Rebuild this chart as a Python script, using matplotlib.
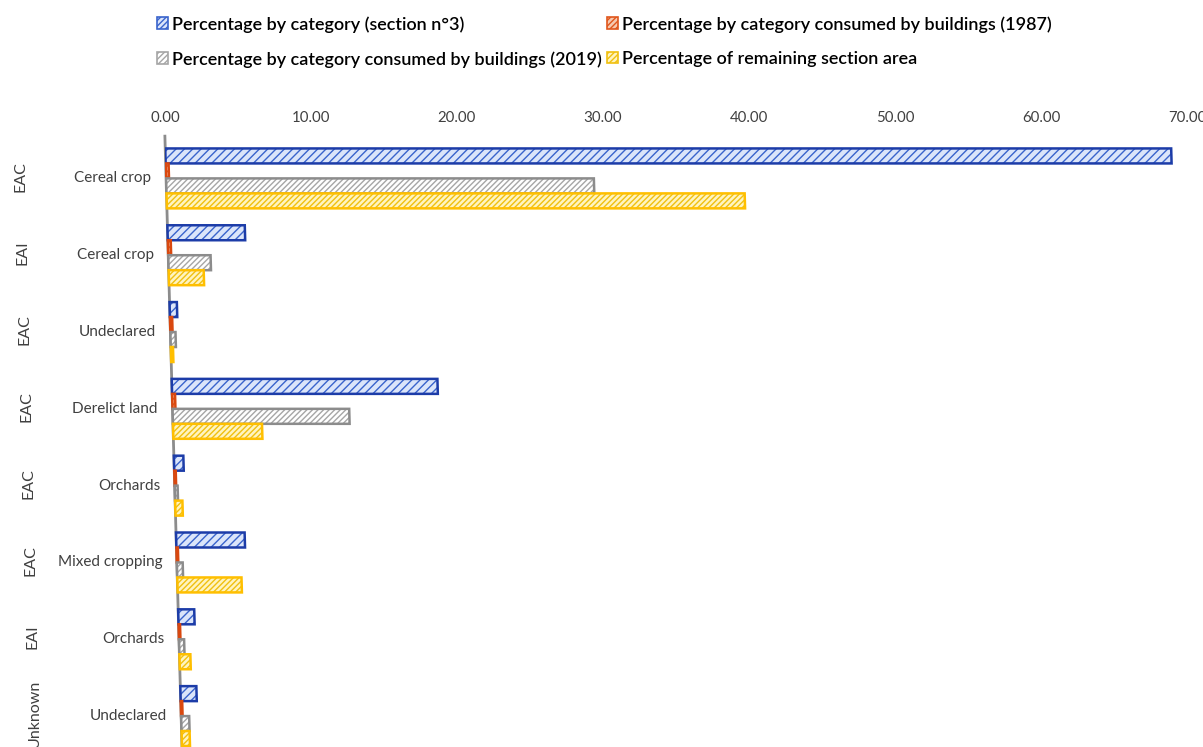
import math
import numpy as np
import matplotlib
matplotlib.use('Agg')
import matplotlib.pyplot as plt
from matplotlib.patches import Patch
from matplotlib.transforms import Affine2D
from matplotlib.ticker import FormatStrFormatter

plt.rcParams['font.family'] = ['Lato', 'DejaVu Sans']

# Categories (outer group / inner label)
outer = ['EAC', 'EAI', 'EAC', 'EAC', 'EAC', 'EAC', 'EAI', 'Unknown']
inner = ['Cereal crop', 'Cereal crop', 'Undeclared', 'Derelict land',
         'Orchards', 'Mixed cropping', 'Orchards', 'Undeclared']

# Series values (%)
section = [68.9, 5.3, 0.5, 18.2, 0.65, 4.7, 1.1, 1.1]
built_1987 = [0.2, 0.2, 0.15, 0.2, 0.1, 0.1, 0.1, 0.1]
built_2019 = [29.3, 2.9, 0.35, 12.1, 0.2, 0.4, 0.35, 0.55]
remaining = [39.6, 2.4, 0.15, 6.1, 0.5, 4.4, 0.75, 0.55]

labels = ['Percentage by category (section n°3)',
          'Percentage by category consumed by buildings (1987)',
          'Percentage by category consumed by buildings (2019)',
          'Percentage of remaining section area']
series = [section, built_1987, built_2019, remaining]
faces = ['#dbe5fa', '#f6c9b0', '#ffffff', '#fff4c0']
hatch_cols = ['#3a64cc', '#e0561c', '#a6a6a6', '#f0c010']
edges = ['#1c3ca8', '#d9480f', '#8c8c8c', '#ffbf00']
hatches = ['////', '//////', '//////', '//////']

W, H = 1203, 747
fig = plt.figure(figsize=(W / 100, H / 100), dpi=100)
top_px = 140
ax = fig.add_axes([165 / W, -7.5 / H, (1187 - 165) / W, (754.5 - top_px) / H])

# perspective-like slant of the category axis (Excel 3D look)
t = 17 / 607
skew = Affine2D().skew(math.atan(-t), 0).translate(t * (H - top_px), 0)
tr = ax.transData + skew

y = np.arange(len(inner))
h = 0.195
for i, vals in enumerate(series):
    pos = y + (i - 1.5) * h
    ax.barh(pos, vals, height=h, color=faces[i], edgecolor=hatch_cols[i],
            hatch=hatches[i], linewidth=0, transform=tr)
    ax.barh(pos, vals, height=h, fill=False, edgecolor=edges[i],
            linewidth=1.8, transform=tr)

ax.plot([0, 0], [-0.55, 7.6], color='#8c8c8c', lw=2, transform=tr,
        clip_on=False, zorder=0)

for k in range(len(inner)):
    ax.text(-1.0, k, inner[k], ha='right', va='center', fontsize=11,
            color='#404040', transform=tr, clip_on=False)
    ax.text(-10.0, k - 0.03, outer[k], ha='center', va='center', rotation=90,
            fontsize=11.5, color='#404040', transform=tr, clip_on=False)

ax.set_xlim(0, 70)
ax.set_ylim(7.5, -0.5)
ax.xaxis.tick_top()
ax.set_xticks(np.arange(0, 71, 10))
ax.xaxis.set_major_formatter(FormatStrFormatter('%.2f'))
ax.tick_params(axis='x', length=0, pad=11, labelsize=10.8, labelcolor='#404040')
ax.set_yticks([])
for s in ax.spines.values():
    s.set_visible(False)

handles = [Patch(facecolor=faces[i], edgecolor=hatch_cols[i], hatch='//////',
                 linewidth=1.2) for i in range(4)]
order = [0, 2, 1, 3]
fig.legend([handles[i] for i in order], [labels[i] for i in order],
           loc='upper left', bbox_to_anchor=(148 / W, 1 - 7 / H), ncol=2,
           frameon=False, borderpad=0, handlelength=0.6, handleheight=0.6,
           handletextpad=0.22, columnspacing=0.3, labelspacing=1.02,
           prop={'size': 13.0, 'weight': 'semibold'})

fig.savefig('out.png', dpi=100)
